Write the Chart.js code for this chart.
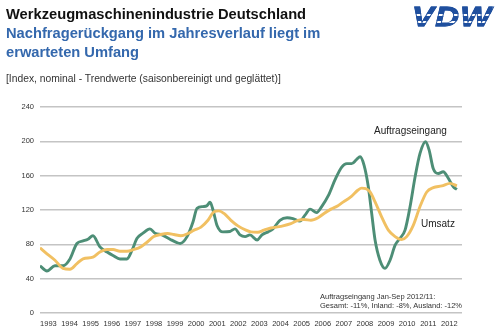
<!DOCTYPE html>
<html>
<head>
<meta charset="utf-8">
<script src="https://cdn.jsdelivr.net/npm/chart.js@4/dist/chart.umd.min.js"></script>
<style>
    html, body { margin: 0; padding: 0; background: #fff; }
    body { width: 500px; height: 332px; position: relative; overflow: hidden; font-family: "Liberation Sans", Arial, sans-serif; }
    #wrap { position: absolute; left: 0; top: 0; width: 500px; height: 332px; }
    .txt { position: absolute; white-space: nowrap; }
    #title { left: 6px; top: 6px; font-size: 14.7px; font-weight: bold; color: #111; }
    #subtitle { left: 6px; top: 24px; font-size: 14.7px; font-weight: bold; color: #3468ad; line-height: 19px; }
    #unit { left: 6px; top: 73px; font-size: 10.3px; color: #333; }
    #logo {
        left: 412px; top: 2px; font-size: 27px; font-weight: 900; font-style: italic; letter-spacing: 1px;
        -webkit-text-stroke: 0.8px #1f4f9e;
        background: linear-gradient(to bottom, #1f4f9e 0px, #1f4f9e 12px, #fff 12px, #fff 14px,
                    #1f4f9e 14px, #1f4f9e 19px, #fff 19px, #fff 21px, #1f4f9e 21px);
        -webkit-background-clip: text; background-clip: text; color: transparent;
        transform: scaleX(1.22); transform-origin: left top;
    }
    #lblOrders { left: 374px; top: 125px; font-size: 10px; color: #222; }
    #lblSales { left: 421px; top: 218px; font-size: 10px; color: #222; }
    #note { left: 320px; top: 292px; font-size: 7.5px; color: #333; line-height: 9px; }
</style>
</head>
<body>
<div id="wrap"><canvas id="trendChart" width="500" height="332"></canvas></div>
<div class="txt" id="title">Werkzeugmaschinenindustrie Deutschland</div>
<div class="txt" id="subtitle">Nachfragerückgang im Jahresverlauf liegt im<br>erwarteten Umfang</div>
<div class="txt" id="unit">[Index, nominal - Trendwerte (saisonbereinigt und geglättet)]</div>
<div class="txt" id="logo">VDW</div>
<div class="txt" id="lblOrders">Auftragseingang</div>
<div class="txt" id="lblSales">Umsatz</div>
<div class="txt" id="note">Auftragseingang Jan-Sep 2012/11:<br>Gesamt: -11%, Inland: -8%, Ausland: -12%</div>

<script>
// Trend values (index), x = decimal year
const years = [1993, 1994, 1995, 1996, 1997, 1998, 1999, 2000, 2001, 2002,
               2003, 2004, 2005, 2006, 2007, 2008, 2009, 2010, 2011, 2012];
const yTicks = [0, 40, 80, 120, 160, 200, 240];

const ordersX = [1993.00, 1993.33, 1993.71, 1994.09, 1994.42, 1994.75, 1995.04, 1995.27, 1995.51, 1995.84,
                 1996.18, 1996.46, 1996.79, 1997.12, 1997.36, 1997.60, 1997.88, 1998.21, 1998.45, 1998.78,
                 1999.16, 1999.49, 1999.64, 1999.97, 2000.25, 2000.44, 2000.73, 2000.91, 2001.06, 2001.20,
                 2001.39, 2001.67, 2002.00, 2002.24, 2002.48, 2002.72, 2002.95, 2003.29, 2003.52, 2003.81,
                 2004.04, 2004.37, 2004.71, 2004.99, 2005.32, 2005.56, 2005.80, 2006.11, 2006.35, 2006.67,
                 2006.98, 2007.30, 2007.54, 2007.77, 2008.01, 2008.17, 2008.36, 2008.56, 2008.72, 2008.88,
                 2009.11, 2009.35, 2009.59, 2009.83, 2010.06, 2010.30, 2010.54, 2010.78, 2011.01, 2011.27,
                 2011.44, 2011.64, 2011.88, 2012.11, 2012.35, 2012.59, 2012.76];
const ordersV = [55, 49, 55, 55, 63, 81, 84, 86, 90, 77,
                 71, 67, 63, 63, 73, 87, 93, 98, 93, 91,
                 86, 82, 81, 89, 106, 122, 124, 125, 129, 120,
                 102, 94.5, 95, 98, 91, 89, 91, 85, 91, 94.5,
                 98, 108, 111, 110, 107, 114, 121, 117, 124, 137,
                 155, 170, 174, 174, 179, 182, 172, 147, 116, 85,
                 61.5, 52, 61.5, 79, 87, 96.5, 124, 159, 186, 199.5,
                 190, 168, 162.6, 164.5, 157, 147, 144];

const salesX = [1993.00, 1993.33, 1993.71, 1994.09, 1994.42, 1994.75, 1995.04, 1995.51, 1995.84, 1996.18,
                1996.46, 1996.79, 1997.12, 1997.44, 1997.77, 1998.10, 1998.39, 1998.72, 1999.05, 1999.34,
                1999.68, 2000.01, 2000.30, 2000.63, 2000.96, 2001.25, 2001.48, 2001.72, 2002.05, 2002.38,
                2002.76, 2002.99, 2003.32, 2003.61, 2003.94, 2004.42, 2004.89, 2005.23, 2005.51, 2005.84,
                2006.18, 2006.46, 2006.79, 2007.12, 2007.29, 2007.76, 2008.06, 2008.25, 2008.44, 2008.64,
                2008.88, 2009.19, 2009.51, 2009.83, 2010.14, 2010.38, 2010.69, 2011.01, 2011.33, 2011.64,
                2012.04, 2012.43, 2012.76];
const salesV = [76, 69, 61.5, 52, 51, 57.6, 63, 65, 71, 74,
                74, 72, 72, 74, 77, 83, 89, 91.5, 92.6, 91.5,
                90, 92.6, 96.5, 100, 108, 118, 119, 116, 108, 101.5,
                96.5, 94.5, 94, 96.5, 99, 101, 104, 108, 109, 108,
                111, 116, 121, 125, 128, 136, 143, 145.5, 145, 141,
                129.5, 112, 96.5, 89, 85.6, 89, 102, 124, 141, 146,
                148, 151, 148];

function toPoints(xs, vs) {
    return xs.map((x, i) => ({ x: x, y: vs[i] }));
}

const ctx = document.getElementById('trendChart').getContext('2d');
window.trendChart = new Chart(ctx, {
    type: 'line',
    data: {
        datasets: [{
            label: 'Umsatz',
            data: toPoints(salesX, salesV),
            borderColor: '#f1c062',
            borderWidth: 2.9,
            pointRadius: 0,
            cubicInterpolationMode: 'monotone',
            fill: false
        }, {
            label: 'Auftragseingang',
            data: toPoints(ordersX, ordersV),
            borderColor: '#4d8e76',
            borderWidth: 2.9,
            pointRadius: 0,
            cubicInterpolationMode: 'monotone',
            fill: false
        }]
    },
    options: {
        responsive: false,
        animation: false,
        layout: { padding: { top: 107, right: 38, left: 0, bottom: 0 } },
        plugins: {
            legend: { display: false },
            tooltip: { enabled: false }
        },
        scales: {
            x: {
                type: 'linear',
                min: 1993,
                max: 2013,
                afterBuildTicks: (axis) => { axis.ticks = years.map(y => ({ value: y + 0.4 })); },
                afterFit: (axis) => { axis.height = 19; },
                grid: { display: false, drawTicks: false },
                border: { display: false },
                ticks: {
                    autoSkip: false,
                    maxRotation: 0,
                    padding: 6,
                    color: '#333',
                    font: { family: 'Liberation Sans', size: 7.5 },
                    callback: (val) => Math.floor(val)
                }
            },
            y: {
                min: 0,
                max: 240,
                afterBuildTicks: (axis) => { axis.ticks = yTicks.map(v => ({ value: v })); },
                afterFit: (axis) => { axis.width = 40; },
                grid: { color: '#c4c4c4', lineWidth: 1.4, drawTicks: false },
                border: { display: false },
                ticks: {
                    padding: 6,
                    color: '#333',
                    font: { family: 'Liberation Sans', size: 7.5 }
                }
            }
        }
    }
});
</script>
</body>
</html>
